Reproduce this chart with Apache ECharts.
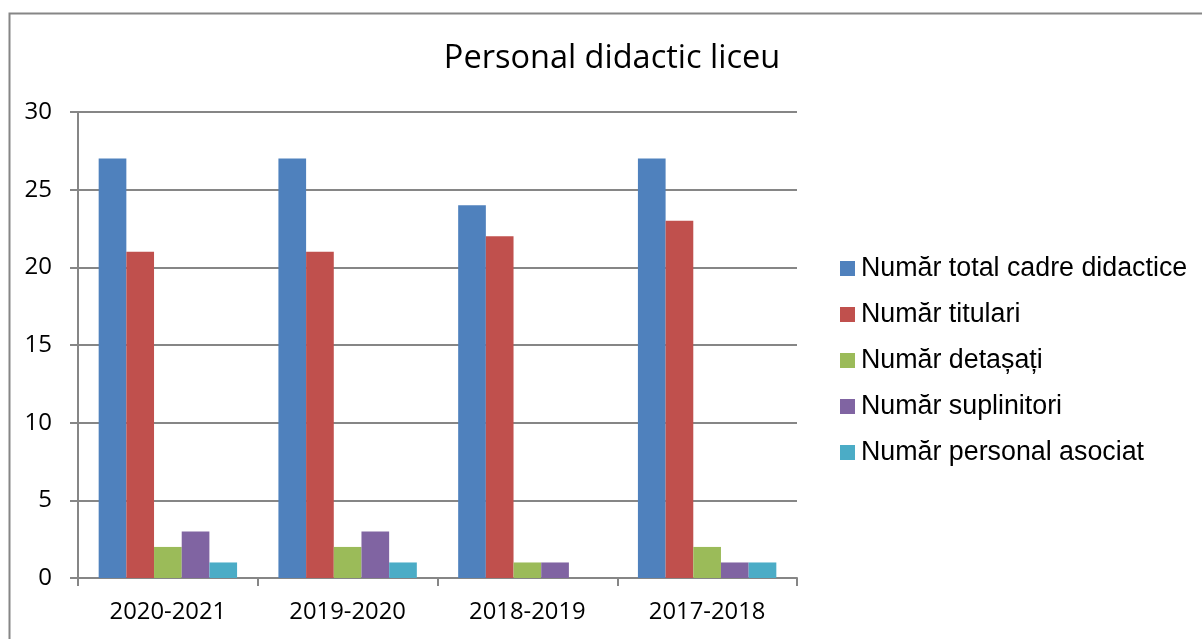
<!DOCTYPE html>
<html>
<head>
<meta charset="utf-8">
<script src="https://cdn.jsdelivr.net/npm/echarts@6/dist/echarts.min.js"></script>
<style>
  html, body { margin: 0; padding: 0; background: #fff; }
  #chart { width: 1202px; height: 639px; }
</style>
</head>
<body>
<div id="chart"></div>
<script>
const years = ['2020-2021', '2019-2020', '2018-2019', '2017-2018']
const seriesNames = [
  'Număr total cadre didactice',
  'Număr titulari',
  'Număr detașați',
  'Număr suplinitori',
  'Număr personal asociat'
]
const totalCadre = [27, 27, 24, 27]
const titulari = [21, 21, 22, 23]
const detasati = [2, 2, 1, 2]
const suplinitori = [3, 3, 1, 1]
const asociat = [1, 1, 0, 1]
const colors = ['#4F81BD', '#C0504D', '#9BBB59', '#8064A2', '#4BACC6']

const values = [totalCadre, titulari, detasati, suplinitori, asociat]

const chart = echarts.init(document.getElementById('chart'))

const series = seriesNames.map((name, i) => ({
  name: name,
  type: 'bar',
  data: values[i],
  barGap: '0%',
  barCategoryGap: '23%',
  itemStyle: { color: colors[i] }
}))

chart.setOption({
  animation: false,
  graphic: [{
    type: 'rect',
    shape: { x: 9.5, y: 13.5, width: 1300, height: 700 },
    style: { fill: 'none', stroke: '#868686', lineWidth: 2 }
  }],
  title: {
    text: 'Personal didactic liceu',
    left: 607,
    top: 37,
    textAlign: 'center',
    textStyle: { fontFamily: 'Open Sans', fontSize: 32.5, fontWeight: 'normal', color: '#000' }
  },
  legend: {
    orient: 'vertical',
    left: 835,
    top: 250,
    itemWidth: 15,
    itemHeight: 15,
    itemGap: 19,
    icon: 'rect',
    data: seriesNames,
    textStyle: { fontFamily: 'Liberation Sans', fontSize: 26.8, color: '#000', padding: [0, 0, 0, 1] }
  },
  grid: { left: 78, top: 112, width: 719, height: 466, containLabel: false },
  xAxis: {
    type: 'category',
    data: years,
    axisLine: { lineStyle: { color: '#868686', width: 2 } },
    axisTick: { show: true, length: 8, lineStyle: { color: '#868686', width: 2 } },
    axisLabel: { fontFamily: 'Open Sans', fontSize: 23.8, color: '#000', margin: 22 }
  },
  yAxis: {
    type: 'value',
    min: 0,
    max: 30,
    interval: 5,
    axisLine: { show: true, lineStyle: { color: '#868686', width: 2 } },
    axisTick: { show: true, length: 8, lineStyle: { color: '#868686', width: 2 } },
    splitLine: { lineStyle: { color: '#868686', width: 2 } },
    axisLabel: { fontFamily: 'Open Sans', fontSize: 24, color: '#000', margin: 26 }
  },
  series: series
})
</script>
</body>
</html>
